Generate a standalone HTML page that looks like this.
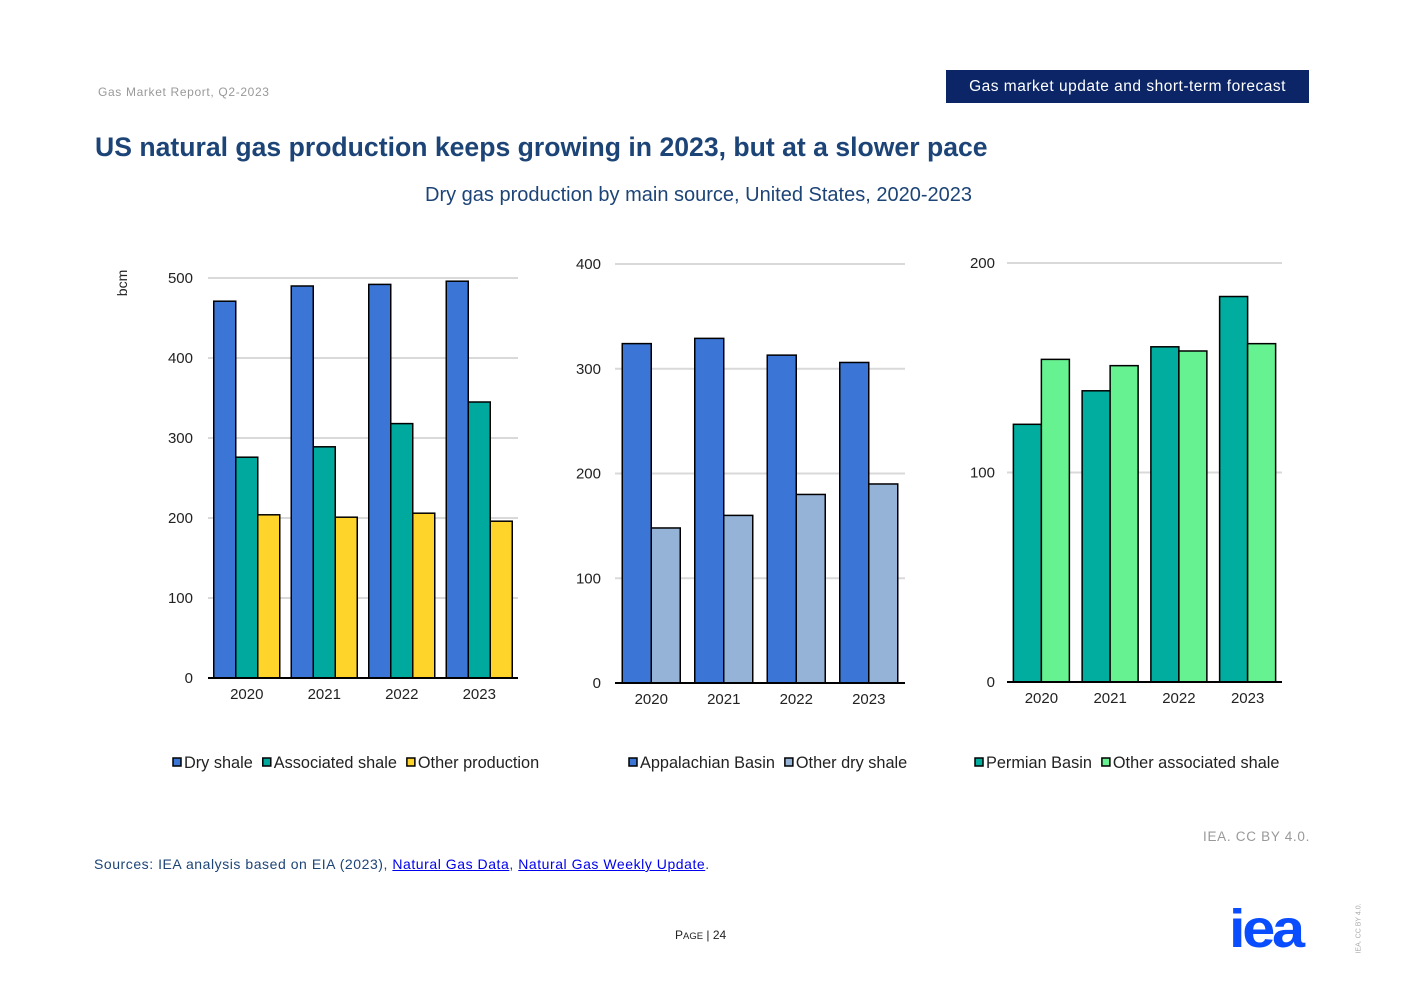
<!DOCTYPE html>
<html><head><meta charset="utf-8">
<style>
body{margin:0;background:#fff;font-family:"Liberation Sans",sans-serif;}
#page{position:relative;width:1403px;height:992px;overflow:hidden;background:#fff;}
.abs{position:absolute;white-space:nowrap;}
svg text{font-family:"Liberation Sans",sans-serif;}
</style></head>
<body>
<div id="page">
<div class="abs" style="left:98px;top:85px;font-size:12px;color:#999;letter-spacing:0.65px">Gas Market Report, Q2-2023</div>
<div class="abs" style="left:946px;top:70px;width:363px;height:33px;background:#0b2566;color:#fff;font-size:15.5px;line-height:33px;text-align:center;letter-spacing:0.5px">Gas market update and short-term forecast</div>
<div class="abs" style="left:95px;top:132px;font-size:26.6px;font-weight:bold;color:#1d4477">US natural gas production keeps growing in 2023, but at a slower pace</div>
<div class="abs" style="left:0;width:1397px;top:184px;font-size:20px;color:#1d4477;text-align:center">Dry gas production by main source, United States, 2020-2023</div>
<svg id="charts" class="abs" style="left:0;top:0" width="1403" height="992"></svg>
<div class="abs" style="left:1203px;top:829px;font-size:13.5px;color:#999;letter-spacing:0.7px">IEA. CC BY 4.0.</div>
<div class="abs" style="left:94px;top:856px;font-size:14px;color:#1d4477;letter-spacing:0.55px">Sources: IEA analysis based on EIA (2023), <a href="#" style="color:#0000ee">Natural Gas Data</a>, <a href="#" style="color:#0000ee">Natural Gas Weekly Update</a>.</div>
<div class="abs" style="left:675px;top:928px;font-size:12px;color:#222">P<span style="font-size:9.5px">AGE</span> | 24</div>
<div class="abs" style="left:1229px;top:902px;font-size:54px;font-weight:bold;color:#0a4dff;letter-spacing:-3px;line-height:54px;transform:scaleX(1.1);transform-origin:left">iea</div>
<div class="abs" style="left:1334px;top:925px;font-size:7px;color:#aaa;transform:rotate(-90deg)">IEA. CC BY 4.0.</div>
</div>
<script>
const years=["2020","2021","2022","2023"];
const dryShale=[471,490,492,496];
const associatedShale=[276,289,318,345];
const otherProduction=[204,201,206,196];
const appalachian=[324,329,313,306];
const otherDry=[148,160,180,190];
const permian=[123,139,160,184];
const otherAssoc=[154,151,158,161.5];
const ticks1=[0,100,200,300,400,500];
const ticks2=[0,100,200,300,400];
const ticks3=[0,100,200];

const NS="http://www.w3.org/2000/svg";
const svg=document.getElementById('charts');
function mk(tag,attrs,parent){const e=document.createElementNS(NS,tag);for(const k in attrs)e.setAttribute(k,attrs[k]);(parent||svg).appendChild(e);return e;}

function chart(cfg){
  const g=mk('g',{});
  
  
  const y=v=>cfg.y0-(v/cfg.max)*(cfg.y0-cfg.yTop);
  cfg.ticks.forEach(t=>{
    if(t>0){const l=mk('line',{x1:cfg.x0,x2:cfg.x1,y1:y(t),y2:y(t),stroke:'#d9d9d9','stroke-width':2},g);
    }
    const tx=mk('text',{x:cfg.labelX,y:y(t)+5,'text-anchor':'end','font-size':15,fill:'#222'},g);
    tx.textContent=t;
    
  });
  const n=years.length, gw=(cfg.x1-cfg.x0)/n;
  const bw=cfg.bw, ns=cfg.series.length;
  years.forEach((yr,i)=>{
    const cx=cfg.x0+gw*(i+0.5);
    const start=cx-bw*ns/2;
    cfg.series.forEach((s,j)=>{
      const v=s.values[i];
      const r=mk('rect',{x:start+j*bw,y:y(v),width:bw,height:cfg.y0-y(v),fill:s.color,stroke:'#000','stroke-width':1.5},g);
      
      
    });
    const tx=mk('text',{x:cx,y:cfg.y0+21,'text-anchor':'middle','font-size':15,fill:'#222'},g);
    tx.textContent=yr;
    
  });
  const ax=mk('line',{x1:cfg.x0,x2:cfg.x1,y1:cfg.y0,y2:cfg.y0,stroke:'#000','stroke-width':2},g);
  
  let lx=cfg.legX;
  cfg.series.forEach(s=>{
    const r=mk('rect',{x:lx+1,y:758,width:8,height:8,fill:s.color,stroke:'#000','stroke-width':1.5},g);
    
    const t=mk('text',{x:lx+12,y:768,'font-size':16.3,fill:'#222'},g);
    t.textContent=s.label;
    
    lx+=12+t.getComputedTextLength()+9;
  });
}
chart({name:'chart-total-production',x0:208,x1:518,y0:678,yTop:278,max:500,ticks:ticks1,labelX:193,bw:22,legX:172,
  series:[{key:'dry-shale',label:'Dry shale',color:'#3b76d6',values:dryShale},
          {key:'associated-shale',label:'Associated shale',color:'#00a99d',values:associatedShale},
          {key:'other-production',label:'Other production',color:'#ffd42a',values:otherProduction}]});
chart({name:'chart-dry-shale',x0:615,x1:905,y0:683,yTop:264,max:400,ticks:ticks2,labelX:601,bw:29,legX:628,
  series:[{key:'appalachian',label:'Appalachian Basin',color:'#3b76d6',values:appalachian},
          {key:'other-dry-shale',label:'Other dry shale',color:'#95b3d7',values:otherDry}]});
chart({name:'chart-associated-shale',x0:1007,x1:1282,y0:682,yTop:263,max:200,ticks:ticks3,labelX:995,bw:28,legX:974,
  series:[{key:'permian',label:'Permian Basin',color:'#00ad9f',values:permian},
          {key:'other-associated',label:'Other associated shale',color:'#66f291',values:otherAssoc}]});
const yt=mk('text',{x:0,y:0,'font-size':14,fill:'#222',transform:'translate(127,283) rotate(-90)','text-anchor':'middle'});
yt.textContent='bcm';


</script>
</body></html>
